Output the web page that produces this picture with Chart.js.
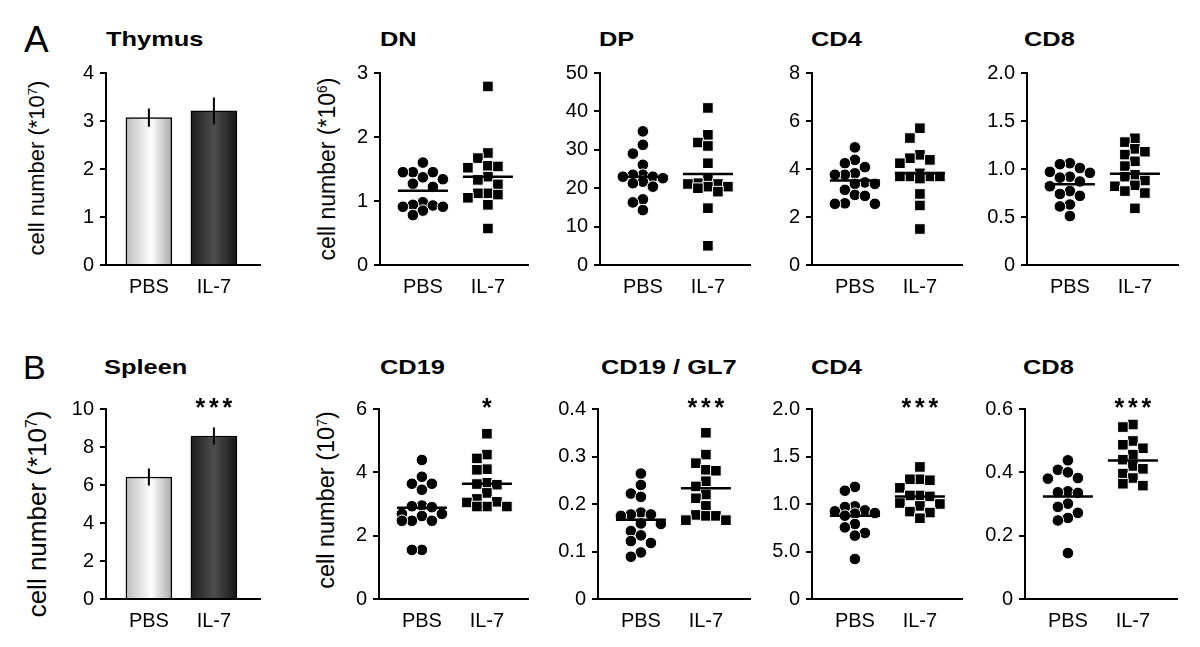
<!DOCTYPE html>
<html>
<head>
<meta charset="utf-8">
<script src="https://cdn.jsdelivr.net/npm/chart.js@4/dist/chart.umd.min.js"></script>
<style>
  html, body { margin: 0; padding: 0; background: #fff; }
  body { width: 1200px; height: 647px; position: relative; overflow: hidden;
         font-family: "Liberation Sans", Arial, Helvetica, sans-serif; color: #000; }
  canvas { position: absolute; }
  .lbl { position: absolute; line-height: 1; white-space: nowrap; }
  .ttl { position: absolute; font-weight: bold; font-size: 20.5px; line-height: 1; white-space: nowrap;
         transform: scaleX(1.24); transform-origin: 0 0; }
  .yt { position: absolute; line-height: 1; white-space: nowrap;
        transform: translate(-50%, -50%) rotate(-90deg); }
  .yt sup { font-size: 0.6em; vertical-align: 0.55em; line-height: 0; }
</style>
</head>
<body>
<div class="lbl" style="left:24px;top:21px;font-size:37px;">A</div>
<div class="lbl" style="left:23px;top:350px;font-size:34px;">B</div>

<div class="ttl" style="left:106px;top:29px;">Thymus</div>
<div class="ttl" style="left:380px;top:29px;">DN</div>
<div class="ttl" style="left:599px;top:29px;">DP</div>
<div class="ttl" style="left:811px;top:29px;">CD4</div>
<div class="ttl" style="left:1024px;top:29px;">CD8</div>

<div class="ttl" style="left:104px;top:357px;">Spleen</div>
<div class="ttl" style="left:380px;top:357px;">CD19</div>
<div class="ttl" style="left:601px;top:357px;">CD19 / GL7</div>
<div class="ttl" style="left:811px;top:357px;">CD4</div>
<div class="ttl" style="left:1023px;top:357px;">CD8</div>

<div class="yt" style="left:37px;top:168px;font-size:22px;">cell number (*10<sup>7</sup>)</div>
<div class="yt" style="left:327px;top:169px;font-size:23px;">cell number (*10<sup>6</sup>)</div>
<div class="yt" style="left:37px;top:514px;font-size:26px;">cell number (*10<sup>7</sup>)</div>
<div class="yt" style="left:327px;top:500px;font-size:23.5px;">cell number (10<sup>7</sup>)</div>

<script>
// ---------------- DATA ----------------
const categories = ['PBS', 'IL-7'];

// Thymus (bars, mean ± error)
const thymusBar = [3.07, 3.21];
const thymusErr = [0.19, 0.28];
const thymusTickVals = [0, 1, 2, 3, 4];
const thymusTickLabels = ['0', '1', '2', '3', '4'];

// DN
const dnPBS = [1.60, 1.45, 1.45, 1.45, 1.37, 1.34, 1.27, 1.22, 0.98, 0.94, 0.93, 0.91, 0.91, 0.85, 0.78];
const dnIL7 = [2.79, 1.75, 1.67, 1.55, 1.54, 1.52, 1.38, 1.33, 1.26, 1.12, 1.12, 1.10, 1.05, 0.94, 0.57];
const dnMean = [1.16, 1.38];
const dnTickVals = [0, 1, 2, 3];
const dnTickLabels = ['0', '1', '2', '3'];

// DP
const dpPBS = [34.8, 31.3, 29.0, 26.1, 23.5, 23.5, 23.0, 23.0, 22.6, 21.7, 21.3, 20.4, 17.1, 16.3, 14.3];
const dpIL7 = [40.9, 33.9, 31.9, 31.0, 26.5, 22.5, 21.3, 21.1, 21.1, 20.4, 20.4, 20.0, 19.1, 14.8, 5.0];
const dpMean = [23.0, 23.7];
const dpTickVals = [0, 10, 20, 30, 40, 50];
const dpTickLabels = ['0', '10', '20', '30', '40', '50'];

// Thymus CD4
const tcd4PBS = [4.90, 4.38, 4.24, 4.08, 3.82, 3.76, 3.76, 3.44, 3.38, 3.38, 3.13, 2.92, 2.88, 2.57, 2.55, 2.55];
const tcd4IL7 = [5.70, 5.29, 4.59, 4.45, 4.38, 4.24, 3.82, 3.69, 3.69, 3.69, 3.69, 3.60, 2.96, 2.48, 1.50];
const tcd4Mean = [3.52, 3.82];
const tcd4TickVals = [0, 2, 4, 6, 8];
const tcd4TickLabels = ['0', '2', '4', '6', '8'];

// Thymus CD8
const tcd8PBS = [1.06, 1.05, 1.01, 0.97, 0.96, 0.92, 0.91, 0.87, 0.82, 0.77, 0.74, 0.72, 0.63, 0.61, 0.51];
const tcd8IL7 = [1.32, 1.28, 1.21, 1.18, 1.15, 1.08, 1.03, 0.94, 0.92, 0.88, 0.83, 0.82, 0.77, 0.75, 0.59];
const tcd8Mean = [0.84, 0.95];
const tcd8TickVals = [0, 0.5, 1.0, 1.5, 2.0];
const tcd8TickLabels = ['0', '0.5', '1.0', '1.5', '2.0'];

// Spleen (bars, mean ± error)
const spleenBar = [6.42, 8.58];
const spleenErr = [0.45, 0.45];
const spleenTickVals = [0, 2, 4, 6, 8, 10];
const spleenTickLabels = ['0', '2', '4', '6', '8', '10'];

// CD19
const cd19PBS = [4.39, 3.86, 3.64, 3.64, 3.45, 2.95, 2.93, 2.90, 2.69, 2.69, 2.62, 2.47, 2.47, 2.47, 1.55, 1.55];
const cd19IL7 = [5.22, 4.56, 4.44, 4.10, 4.08, 3.67, 3.63, 3.61, 3.35, 3.16, 3.07, 3.05, 2.92, 2.92, 2.92];
const cd19Mean = [2.88, 3.64];
const cd19TickVals = [0, 2, 4, 6];
const cd19TickLabels = ['0', '2', '4', '6'];

// CD19 / GL7
const gl7PBS = [0.264, 0.240, 0.222, 0.215, 0.182, 0.178, 0.178, 0.175, 0.159, 0.158, 0.143, 0.134, 0.122, 0.118, 0.098, 0.089];
const gl7IL7 = [0.350, 0.304, 0.286, 0.272, 0.270, 0.248, 0.237, 0.220, 0.212, 0.196, 0.177, 0.175, 0.175, 0.166, 0.166];
const gl7Mean = [0.167, 0.233];
const gl7TickVals = [0, 0.1, 0.2, 0.3, 0.4];
const gl7TickLabels = ['0', '0.1', '0.2', '0.3', '0.4'];

// Spleen CD4
const scd4PBS = [1.18, 1.14, 0.975, 0.968, 0.933, 0.923, 0.905, 0.898, 0.877, 0.789, 0.754, 0.695, 0.667, 0.421];
const scd4IL7 = [1.39, 1.26, 1.26, 1.25, 1.17, 1.09, 1.09, 1.08, 1.01, 1.00, 0.98, 0.92, 0.91, 0.85];
const scd4Mean = [0.877, 1.08];
const scd4TickVals = [0, 0.5, 1.0, 1.5, 2.0];
const scd4TickLabels = ['0', '5.0', '1.0', '1.5', '2.0'];

// Spleen CD8
const scd8PBS = [0.438, 0.408, 0.400, 0.382, 0.380, 0.340, 0.337, 0.335, 0.301, 0.291, 0.272, 0.256, 0.248, 0.145];
const scd8IL7 = [0.551, 0.543, 0.499, 0.487, 0.476, 0.456, 0.440, 0.420, 0.411, 0.396, 0.382, 0.364, 0.358];
const scd8Mean = [0.324, 0.437];
const scd8TickVals = [0, 0.2, 0.4, 0.6];
const scd8TickLabels = ['0', '0.2', '0.4', '0.6'];

// ---------------- LAYOUT ----------------
const FONT = '"Liberation Sans", Arial, Helvetica, sans-serif';
Chart.defaults.font.family = FONT;
Chart.defaults.color = '#000';

const PX_PER_CAT = 65;   // pixels between PBS and IL-7 columns
const X_START = 0.34;    // category units left of PBS to y axis

const panels = [
  { kind: 'bar', L: 106, T: 73, R: 260, B: 265, tv: thymusTickVals, tl: thymusTickLabels, bars: thymusBar, err: thymusErr },
  { kind: 'dot', L: 380, T: 73, R: 528, B: 265, tv: dnTickVals, tl: dnTickLabels, pbs: dnPBS, il7: dnIL7, mean: dnMean },
  { kind: 'dot', L: 600, T: 73, R: 750, B: 265, tv: dpTickVals, tl: dpTickLabels, pbs: dpPBS, il7: dpIL7, mean: dpMean },
  { kind: 'dot', L: 812, T: 73, R: 962, B: 265, tv: tcd4TickVals, tl: tcd4TickLabels, pbs: tcd4PBS, il7: tcd4IL7, mean: tcd4Mean },
  { kind: 'dot', L: 1027, T: 73, R: 1178, B: 265, tv: tcd8TickVals, tl: tcd8TickLabels, pbs: tcd8PBS, il7: tcd8IL7, mean: tcd8Mean },
  { kind: 'bar', L: 106, T: 409, R: 260, B: 599, tv: spleenTickVals, tl: spleenTickLabels, bars: spleenBar, err: spleenErr, stars: '***' },
  { kind: 'dot', L: 379, T: 409, R: 528, B: 599, tv: cd19TickVals, tl: cd19TickLabels, pbs: cd19PBS, il7: cd19IL7, mean: cd19Mean, stars: '*' },
  { kind: 'dot', L: 598, T: 409, R: 750, B: 599, tv: gl7TickVals, tl: gl7TickLabels, pbs: gl7PBS, il7: gl7IL7, mean: gl7Mean, stars: '***' },
  { kind: 'dot', L: 812, T: 409, R: 962, B: 599, tv: scd4TickVals, tl: scd4TickLabels, pbs: scd4PBS, il7: scd4IL7, mean: scd4Mean, stars: '***' },
  { kind: 'dot', L: 1025, T: 409, R: 1177, B: 599, tv: scd8TickVals, tl: scd8TickLabels, pbs: scd8PBS, il7: scd8IL7, mean: scd8Mean, stars: '***' }
];

// Beeswarm-style horizontal spreading of points (layout only, values untouched).
// At most 5 columns; if every column clashes, take the least-overlapping one.
function swarm(vals, center, pxPerY, step) {
  const placed = [];
  const out = new Array(vals.length);
  const order = vals.map((v, i) => i).sort((a, b) => vals[b] - vals[a]);
  const cands = [0, -1, 1, -2, 2];
  for (const i of order) {
    const yp = vals[i] * pxPerY;
    let best = 0, bestGap = -1;
    for (const c of cands) {
      const xo = c * step;
      let gap = Infinity;
      placed.forEach(p => { if (Math.abs(p.x - xo) < step - 0.1) gap = Math.min(gap, Math.abs(p.y - yp)); });
      if (gap >= step - 0.1) { best = xo; bestGap = gap; break; }
      if (gap > bestGap) { bestGap = gap; best = xo; }
    }
    placed.push({ x: best, y: yp });
    out[i] = { x: center + best / PX_PER_CAT, y: vals[i] };
  }
  return out;
}

function gradFill(c) {
  const chart = c.chart;
  const xs = chart.scales && chart.scales.x;
  const light = c.dataIndex === 0;
  const fallback = light ? '#e6e6e6' : '#333333';
  if (!xs || !c.raw) return fallback;
  const xc = xs.getPixelForValue(c.raw.x);
  if (!isFinite(xc)) return fallback;
  const g = chart.ctx.createLinearGradient(xc - 23, 0, xc + 23, 0);
  if (light) {
    g.addColorStop(0, '#bcbcbc');
    g.addColorStop(0.55, '#ffffff');
    g.addColorStop(1, '#a8a8a8');
  } else {
    g.addColorStop(0, '#1c1c1c');
    g.addColorStop(0.5, '#4e4e4e');
    g.addColorStop(1, '#161616');
  }
  return g;
}

function decoPlugin(p) {
  return {
    id: 'deco',
    afterDatasetsDraw(chart) {
      const { ctx, chartArea } = chart;
      const x = chart.scales.x, y = chart.scales.y;
      ctx.save();
      ctx.strokeStyle = '#000';
      ctx.lineCap = 'butt';
      if (p.kind === 'bar') {
        ctx.lineWidth = 2;
        p.bars.forEach((v, i) => {
          const xc = x.getPixelForValue(i + 1);
          ctx.beginPath();
          ctx.moveTo(xc, y.getPixelForValue(v + p.err[i]));
          ctx.lineTo(xc, y.getPixelForValue(v - p.err[i]));
          ctx.stroke();
        });
      } else {
        ctx.lineWidth = 2.5;
        p.mean.forEach((v, i) => {
          const xc = x.getPixelForValue(i + 1);
          const yy = y.getPixelForValue(v);
          ctx.beginPath();
          ctx.moveTo(xc - 25, yy);
          ctx.lineTo(xc + 25, yy);
          ctx.stroke();
        });
      }
      if (p.stars) {
        ctx.fillStyle = '#000';
        ctx.font = 'bold 25px ' + FONT;
        ctx.textAlign = 'center';
        ctx.textBaseline = 'alphabetic';
        const xc = x.getPixelForValue(2);
        const n = p.stars.length;
        for (let k = 0; k < n; k++) {
          ctx.fillText(p.stars[k], xc + (k - (n - 1) / 2) * 13.5, chartArea.top + 7);
        }
      }
      ctx.restore();
    }
  };
}

function makePanel(p) {
  const padL = 70, padT = 20, padR = 12, padB = 45;
  const w = p.R - p.L + padL + padR;
  const h = p.B - p.T + padT + padB;
  const cv = document.createElement('canvas');
  cv.width = w; cv.height = h;
  cv.style.width = w + 'px'; cv.style.height = h + 'px';
  cv.style.left = (p.L - padL) + 'px';
  cv.style.top = (p.T - padT) + 'px';
  document.body.appendChild(cv);

  const yMax = p.tv[p.tv.length - 1];
  const pxPerY = (p.B - p.T) / yMax;
  const xMax = X_START + (p.R - p.L) / PX_PER_CAT;

  let datasets;
  if (p.kind === 'bar') {
    datasets = [{
      type: 'bar',
      data: p.bars.map((v, i) => ({ x: i + 1, y: v })),
      barThickness: 46,
      borderColor: '#000',
      borderWidth: 1.5,
      borderSkipped: 'bottom',
      backgroundColor: gradFill
    }];
  } else {
    datasets = [
      { type: 'scatter', data: swarm(p.pbs, 1, pxPerY, 10), pointStyle: 'circle', pointRadius: 5.8,
        backgroundColor: '#000', borderColor: '#fff', borderWidth: 1, clip: false },
      { type: 'scatter', data: swarm(p.il7, 2, pxPerY, 10), pointStyle: 'rect', pointRadius: 7.5,
        backgroundColor: '#000', borderColor: '#fff', borderWidth: 1, clip: false }
    ];
  }

  try {
    new Chart(cv, {
      type: p.kind === 'bar' ? 'bar' : 'scatter',
      data: { datasets },
      options: {
        responsive: false,
        animation: false,
        devicePixelRatio: 1,
        layout: { padding: { left: 0, top: padT, right: padR, bottom: 0 } },
        plugins: { legend: { display: false }, tooltip: { enabled: false }, title: { display: false } },
        scales: {
          x: {
            type: 'linear', min: X_START, max: xMax, offset: false,
            afterFit: (s) => { s.height = padB; },
            afterBuildTicks: (s) => { s.ticks = categories.map((c, i) => ({ value: i + 1 })); },
            ticks: {
              autoSkip: false, maxRotation: 0, padding: 10,
              font: { size: 20, family: FONT }, color: '#000',
              callback: (v) => categories[Math.round(v) - 1]
            },
            grid: { display: false, drawTicks: false, offset: false },
            border: { display: true, color: '#000', width: 2 }
          },
          y: {
            type: 'linear', min: 0, max: yMax,
            afterFit: (s) => { s.width = padL; },
            afterBuildTicks: (s) => { s.ticks = p.tv.map(v => ({ value: v })); },
            ticks: {
              autoSkip: false, padding: 6,
              font: { size: 20, family: FONT }, color: '#000',
              callback: (v, i) => p.tl[i]
            },
            grid: { display: true, drawOnChartArea: false, drawTicks: true, tickLength: 6, color: '#000', lineWidth: 2 },
            border: { display: true, color: '#000', width: 2 }
          }
        }
      },
      plugins: [decoPlugin(p)]
    });
  } catch (e) {
    console.error(e);
  }
}

panels.forEach(makePanel);
</script>
</body>
</html>
